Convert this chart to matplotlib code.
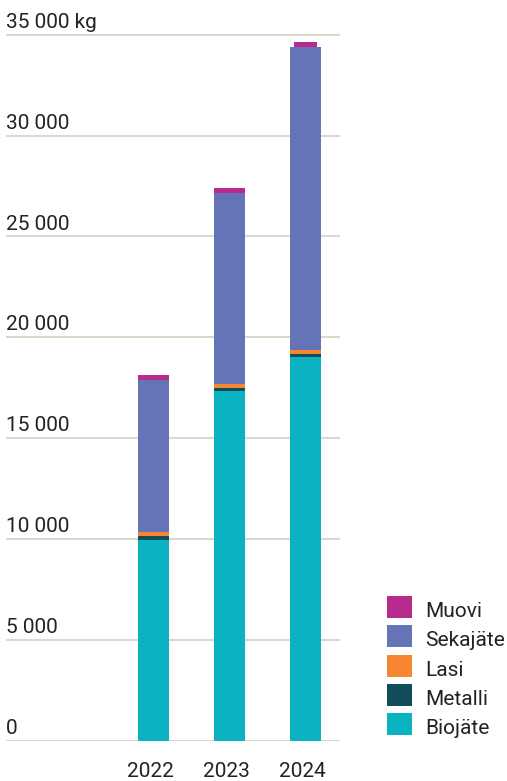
import matplotlib
matplotlib.use("Agg")
import matplotlib.pyplot as plt
from matplotlib.patches import Rectangle

plt.rcParams['font.family'] = ['Roboto', 'DejaVu Sans']

years = ['2022', '2023', '2024']
categories = ['Biojäte', 'Metalli', 'Lasi', 'Sekajäte', 'Muovi']
biojate = [9950, 17340, 19020]
metalli = [170, 150, 150]
lasi = [200, 200, 200]
sekajate = [7540, 9470, 15030]
muovi = [250, 250, 250]
yticks = [0, 5000, 10000, 15000, 20000, 25000, 30000, 35000]
ytick_labels = ['0', '5 000', '10 000', '15 000', '20 000', '25 000', '30 000', '35 000 kg']

colors = {
    'Biojäte': '#0bb2c1',
    'Metalli': '#124d5b',
    'Lasi': '#f68630',
    'Sekajäte': '#6573b7',
    'Muovi': '#b82a8c',
}
text_color = '#222222'
grid_color = '#dcd8cc'
fs = 15

W, H = 507, 781
fig = plt.figure(figsize=(W / 100, H / 100), dpi=100)
# axes spans the gridlines: x 6..340 px, y=0 at 740.5 px
ax = fig.add_axes([6 / W, 40.5 / H, 334 / W, 715.7 / H])
ax.set_xlim(-1.94, 2.454)
ax.set_ylim(0, 35500)

x = list(range(len(years)))
bw = 0.408
series = [biojate, metalli, lasi, sekajate, muovi]
bottom = [0, 0, 0]
for name, vals in zip(categories, series):
    width = [bw, bw, 0.30] if name == 'Muovi' else bw
    ax.bar(x, vals, width=width, bottom=bottom, color=colors[name],
           linewidth=0, zorder=3)
    bottom = [b + v for b, v in zip(bottom, vals)]

for y, lab in zip(yticks, ytick_labels):
    ax.axhline(y, color=grid_color, linewidth=1.5, zorder=1)
    ax.annotate(lab, xy=(0, y), xycoords=('axes fraction', 'data'),
                xytext=(0, 5), textcoords='offset points',
                ha='left', va='baseline', fontsize=fs, color=text_color)

# year labels under the bars
for xi, yr in zip(x, years):
    ax.annotate(yr, xy=(xi, 0), xycoords=('data', 'axes fraction'),
                xytext=(-2, -26), textcoords='offset points',
                ha='center', va='baseline', fontsize=fs, color=text_color)
ax.set_xticks([])
ax.set_yticks([])
for s in ax.spines.values():
    s.set_visible(False)

# legend, top item first
legend_items = ['Muovi', 'Sekajäte', 'Lasi', 'Metalli', 'Biojäte']
for i, name in enumerate(legend_items):
    cy = 607 + i * 29.3
    fig.add_artist(Rectangle((387 / W, (H - cy - 11) / H), 25 / W, 22 / H,
                             transform=fig.transFigure, color=colors[name],
                             linewidth=0))
    fig.text(425 / W, (H - cy - 10) / H, name, ha='left', va='baseline',
             fontsize=fs, color=text_color)

fig.savefig('out.png', dpi=100)
